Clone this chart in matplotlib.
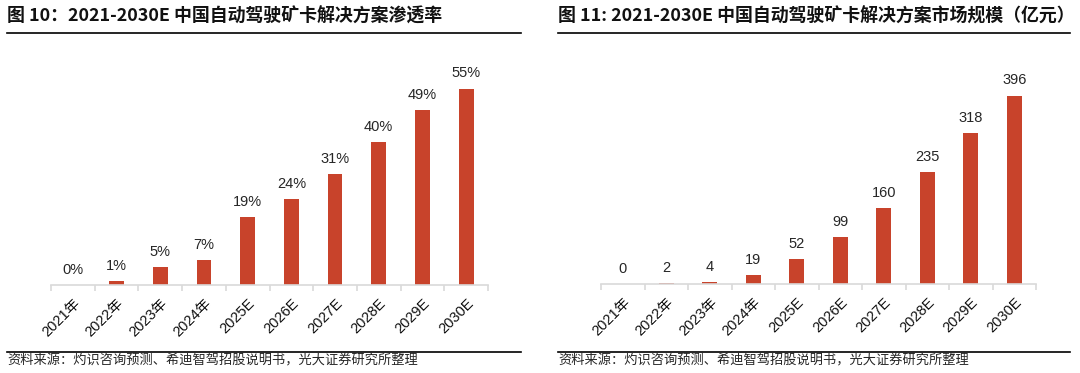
import matplotlib
matplotlib.use("Agg")
import matplotlib.pyplot as plt
from matplotlib.lines import Line2D

plt.rcParams['font.family'] = ['Noto Sans CJK SC', 'DejaVu Sans']

# data
years = ['2021年', '2022年', '2023年', '2024年', '2025E', '2026E',
         '2027E', '2028E', '2029E', '2030E']
penetration = [0, 1, 5, 7, 19, 24, 31, 40, 49, 55]
market_size = [0, 2, 4, 19, 52, 99, 160, 235, 318, 396]

bar_color = '#C8432B'
axis_color = '#D9D9D9'
text_color = '#262626'
latin = ['Liberation Sans', 'Noto Sans CJK SC']

W, H = 1080, 373
fig = plt.figure(figsize=(W / 100, H / 100), dpi=100)


def px(x0, y0, x1, y1):
    # pixel box (top-left origin) -> figure fraction rect
    return [x0 / W, 1 - y1 / H, (x1 - x0) / W, (y1 - y0) / H]


def draw_panel(rect, values, ymax, fmt):
    ax = fig.add_axes(rect)
    x = range(len(values))
    ax.bar(x, values, width=0.34, color=bar_color)
    for i, v in enumerate(values):
        ax.text(i, v + ymax * 0.035, fmt.format(v), ha='center', va='bottom',
                fontsize=10.5, color=text_color, family=latin)
    ax.set_xlim(-0.5, len(values) - 0.5)
    ax.set_ylim(0, ymax)
    for s in ['top', 'right', 'left']:
        ax.spines[s].set_visible(False)
    ax.spines['bottom'].set_color(axis_color)
    ax.spines['bottom'].set_linewidth(1.2)
    ax.set_yticks([])
    # tick marks between categories
    ax.set_xticks([i - 0.5 for i in range(len(values) + 1)], minor=True)
    ax.tick_params(axis='x', which='minor', length=4, color=axis_color, width=1.2)
    ax.set_xticks(list(x))
    ax.set_xticklabels(years, rotation=45, ha='right', rotation_mode='anchor',
                       fontsize=10.5, color='#111111', family=latin)
    ax.tick_params(axis='x', which='major', length=0, pad=8)
    return ax


draw_panel(px(51, 50, 488, 285), penetration, 65.8, '{}%')
draw_panel(px(601, 50, 1036, 284), market_size, 492, '{}')

# titles, rules and sources
fig.text(7 / W, 1 - 16.5 / H, '图 10：2021-2030E 中国自动驾驶矿卡解决方案渗透率',
         fontsize=12.9, fontweight='bold', va='center', ha='left', color='#111111')
fig.text(558 / W, 1 - 16.5 / H, '图 11: 2021-2030E 中国自动驾驶矿卡解决方案市场规模（亿元）',
         fontsize=12.9, fontweight='bold', va='center', ha='left', color='#111111')

for x0, x1 in [(7, 521), (558, 1070)]:
    for y in (32.7, 351.5):
        fig.add_artist(Line2D([x0 / W, x1 / W], [1 - y / H, 1 - y / H],
                              color='black', linewidth=1.2))

src = '资料来源：灼识咨询预测、希迪智驾招股说明书，光大证券研究所整理'
fig.text(7 / W, 1 - 361 / H, src, fontsize=9.5, va='center', ha='left', color=text_color)
fig.text(558 / W, 1 - 361 / H, src, fontsize=9.5, va='center', ha='left', color=text_color)

fig.savefig('out.png', dpi=100, facecolor='white')
